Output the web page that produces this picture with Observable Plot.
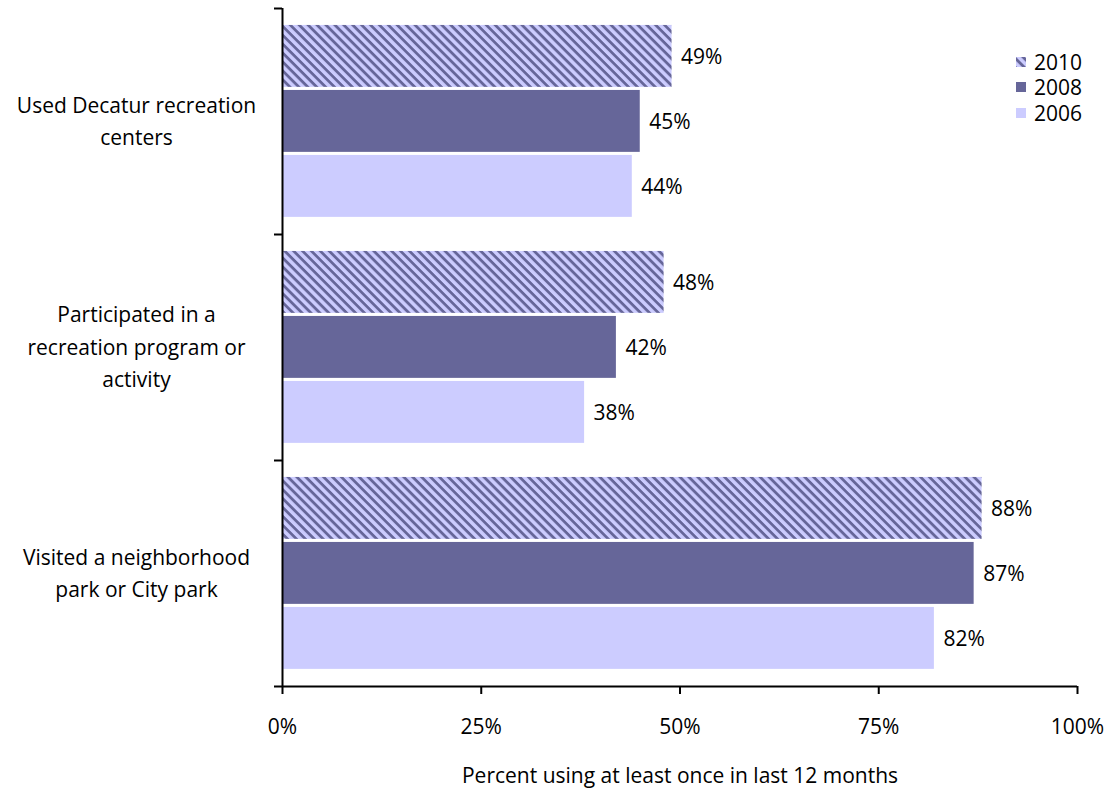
<!DOCTYPE html>
<html>
<head>
<meta charset="utf-8">
<script src="https://cdn.jsdelivr.net/npm/d3@7"></script>
<script src="https://cdn.jsdelivr.net/npm/@observablehq/plot@0.6"></script>
<style>
  body { margin: 0; background: #fff; }
  #wrap { position: relative; width: 1112px; height: 792px; font-family: "Open Sans", sans-serif; }
  #legend { position: absolute; left: 1016px; top: 49px; font-size: 21px; color: #000; }
  .item { display: flex; align-items: center; height: 25.5px; }
  .item span { line-height: 22px; display: block; }
  .item svg { margin-right: 8px; }
</style>
</head>
<body>
<div id="wrap"><div id="legend"></div></div>
<script>
// ---- data ----
const categories = [
  "Used Decatur recreation centers",
  "Participated in a recreation program or activity",
  "Visited a neighborhood park or City park"
];
const categoryLabels = [
  "Used Decatur recreation\ncenters",
  "Participated in a\nrecreation program or\nactivity",
  "Visited a neighborhood\npark or City park"
];
const years = ["2010", "2008", "2006"];
const values2010 = [49, 48, 88];
const values2008 = [45, 42, 87];
const values2006 = [44, 38, 82];
const xTicks = [0, 25, 50, 75, 100];
const xTitle = "Percent using at least once in last 12 months";
const yearColors = ["url(#hatch)", "#666699", "#ccccff"];

// ---- table ----
const series = [values2010, values2008, values2006];
const rows = [];
categories.forEach((c, ci) => {
  years.forEach((yr, yi) => {
    rows.push({category: c, ci, year: yr, yi, value: series[yi][ci]});
  });
});

// layout within each category slot (slot = 1 unit on y)
const slotPad = 0.075, barSize = 0.274, barStep = 0.2876;
const barTop = d => d.ci + slotPad + d.yi * barStep;
const barBottom = d => barTop(d) + barSize;
const barMid = d => barTop(d) + barSize / 2;

const font = "Open Sans, sans-serif";
const fs = 21;

const chart = Plot.plot({
  width: 1112,
  height: 792,
  marginLeft: 282,
  marginRight: 35,
  marginTop: 8,
  marginBottom: 106,
  style: {fontFamily: font, fontSize: fs + "px", color: "#000", background: "transparent"},
  x: {type: "linear", domain: [0, 100]},
  y: {type: "linear", domain: [0, 3], reverse: true},
  color: {domain: years, range: yearColors},
  marks: [
    Plot.rect(rows, {x1: 0, x2: "value", y1: barTop, y2: barBottom, fill: "year"}),
    Plot.text(rows, {x: "value", y: barMid, text: d => d.value + "%", dx: 9, dy: 1, textAnchor: "start", fill: "#000", fontSize: fs}),
    Plot.text(categoryLabels, {x: 0, y: (d, i) => i + 0.5, text: d => d, dx: -146, dy: -3, textAnchor: "middle", lineHeight: 1.55, fill: "#000", fontSize: fs}),
    Plot.ruleX([0], {stroke: "#000", strokeWidth: 2}),
    Plot.ruleY([3], {stroke: "#000", strokeWidth: 2}),
    Plot.axisY([0, 1, 2, 3], {tickSize: 8, tickFormat: () => "", strokeWidth: 2, stroke: "#000"}),
    Plot.axisX(xTicks, {
      tickSize: 8, tickPadding: 25, strokeWidth: 2, stroke: "#000",
      tickFormat: d => d + "%",
      label: xTitle, labelAnchor: "center", labelArrow: "none", labelOffset: 96, fontSize: fs
    })
  ]
});

// hatch pattern
d3.select(chart).insert("defs", ":first-child").html(
  `<pattern id="hatch" patternUnits="userSpaceOnUse" width="10" height="6.3" patternTransform="rotate(45)">
     <rect width="10" height="6.3" fill="#ccccff"></rect>
     <rect width="10" height="2.8" fill="#666699"></rect>
   </pattern>`
);

document.getElementById("wrap").prepend(chart);

// legend
const legend = d3.select("#legend");
years.forEach((yr, i) => {
  const item = legend.append("div").attr("class", "item");
  const s = item.append("svg").attr("width", 10).attr("height", 10);
  s.append("rect").attr("width", 10).attr("height", 10).attr("fill", yearColors[i]);
  item.append("span").text(yr);
});
</script>
</body>
</html>
